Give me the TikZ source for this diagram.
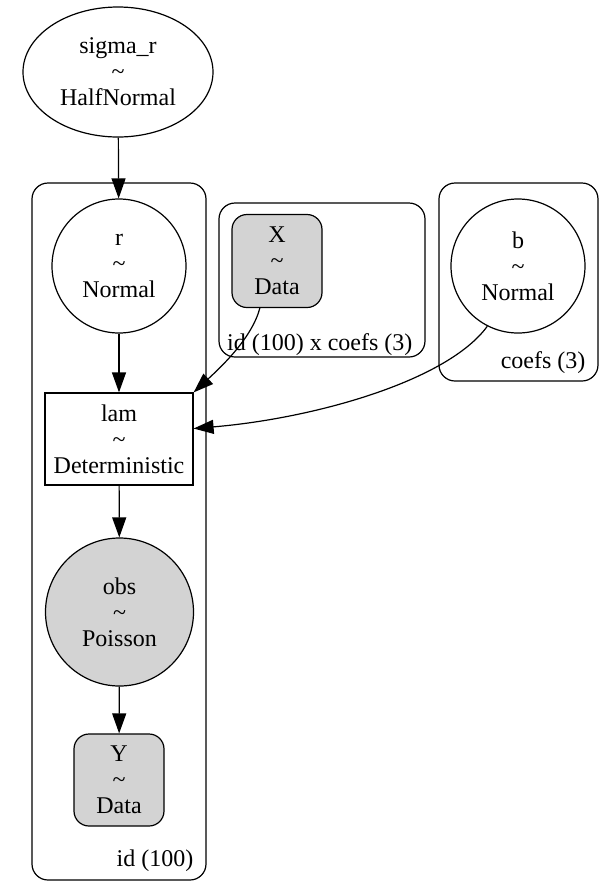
\documentclass[tikz,border=0pt]{standalone}
\usepackage{fontspec}
\setmainfont{Liberation Serif}
\usetikzlibrary{arrows.meta,shapes.geometric}
\definecolor{ink}{HTML}{000000}
\definecolor{obsfill}{HTML}{D3D3D3}

\begin{document}
\begin{tikzpicture}[
  x=0.5pt, y=-0.5pt,
  font=\fontsize{12}{13}\selectfont,
  line width=0.6pt,
  >={Triangle[length=10pt,width=7pt]},
  rv/.style={
    draw=ink,
    ellipse,
    align=center,
    inner sep=0pt
  },
  observed/.style={
    rv,
    fill=obsfill
  },
  datanode/.style={
    draw=ink,
    fill=obsfill,
    rounded corners=7.5pt,
    align=center,
    minimum width=45pt,
    minimum height=46pt,
    inner sep=0pt
  },
  detnode/.style={
    draw=ink,
    align=center,
    minimum width=74pt,
    minimum height=46pt,
    inner sep=2pt
  },
  plate box/.style={
    draw=ink,
    rounded corners=8pt
  },
  plate label/.style={
    anchor=base east,
    inner sep=0pt
  },
  dep/.style={
    ->,
    draw=ink
  }
]

\useasboundingbox (0,0) rectangle (615,891);

% Plates
\draw[plate box] (32,183) rectangle (206,880);
\draw[plate box] (219,203) rectangle (425,357);
\draw[plate box] (439,183) rectangle (598,381);
\node[plate label] (idlabel) at (194,866) {id (100)};
\node[plate label] (idcoefslabel) at (413,350) {id (100) x coefs (3)};
\node[plate label] (coefslabel) at (586,368) {coefs (3)};

% Variables
\node[rv, minimum width=95pt, minimum height=65pt] (sigmar) at (118,72) {sigma\_r\\\textasciitilde\\HalfNormal};
\node[rv, minimum width=67pt, minimum height=67pt] (r) at (119,266) {r\\\textasciitilde\\Normal};
\node[detnode] (lam) at (119,439) {lam\\\textasciitilde\\Deterministic};
\node[observed, minimum width=74pt, minimum height=74pt] (obs) at (119.5,612) {obs\\\textasciitilde\\Poisson};
\node[datanode] (Y) at (119,780) {Y\\\textasciitilde\\Data};
\node[datanode, minimum height=46.5pt] (X) at (277,261) {X\\\textasciitilde\\Data};
\node[rv, minimum width=67pt, minimum height=67pt] (b) at (518,266) {b\\\textasciitilde\\Normal};

% Dependencies
\draw[dep] (sigmar) -- (r);
\draw[dep] (r) -- (lam);
\draw[dep] (lam) -- (obs);
\draw[dep] (obs) -- (Y);
\draw[dep] (X.250) .. controls +(-8,30) and +(28,-26) .. (lam.north east);
\draw[dep] (b.243) .. controls +(-40,55) and +(120,-10) .. (lam.8);

\end{tikzpicture}
\end{document}
